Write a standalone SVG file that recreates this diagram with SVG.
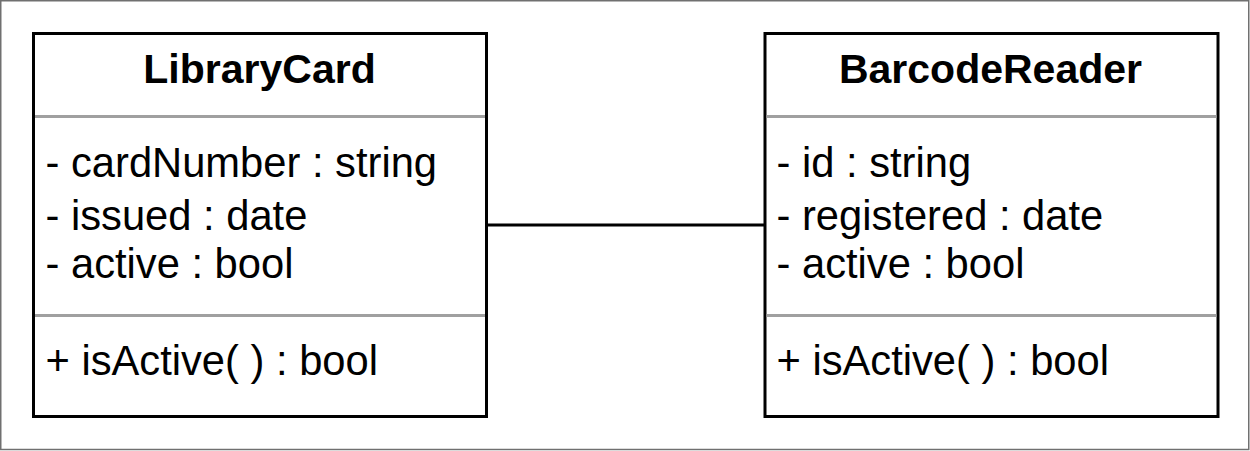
<svg xmlns="http://www.w3.org/2000/svg" width="1250" height="451" viewBox="0 0 1250 451">
  <style>
    .frame { fill: #ffffff; stroke: #707070; stroke-width: 1.5; }
    .box { fill: #ffffff; stroke: #000000; stroke-width: 3; }
    .sep { stroke: #a0a0a0; stroke-width: 3; fill: none; }
    .conn { stroke: #000000; stroke-width: 3; fill: none; }
    .title { font-family: "Liberation Sans", Arial, sans-serif; font-weight: bold; font-size: 41px; fill: #000000; text-anchor: middle; }
    .member { font-family: "Liberation Sans", Arial, sans-serif; font-size: 41.7px; fill: #000000; }
  </style>
  <rect class="frame" x="0.75" y="0.75" width="1248" height="448.75"/>
  <g id="connectors">
    <line class="conn" x1="486.5" y1="225" x2="765" y2="225"/>
  </g>
  <g id="LibraryCard">
    <rect class="box" x="33.5" y="33.5" width="453" height="383"/>
    <line class="sep" x1="35" y1="116.5" x2="485" y2="116.5"/>
    <line class="sep" x1="35" y1="315.5" x2="485" y2="315.5"/>
    <text class="title" x="259.5" y="83">LibraryCard</text>
    <text class="member" x="45.5" y="177">- cardNumber : string</text>
    <text class="member" x="45.5" y="230">- issued : date</text>
    <text class="member" x="45.5" y="278">- active : bool</text>
    <text class="member" x="45.5" y="375">+ isActive( ) : bool</text>
  </g>
  <g id="BarcodeReader">
    <rect class="box" x="765" y="33.5" width="453" height="383"/>
    <line class="sep" x1="766.5" y1="116.5" x2="1216.5" y2="116.5"/>
    <line class="sep" x1="766.5" y1="315.5" x2="1216.5" y2="315.5"/>
    <text class="title" x="990.5" y="83">BarcodeReader</text>
    <text class="member" x="776.5" y="177">- id : string</text>
    <text class="member" x="776.5" y="230">- registered : date</text>
    <text class="member" x="776.5" y="278">- active : bool</text>
    <text class="member" x="776.5" y="375">+ isActive( ) : bool</text>
  </g>
</svg>
